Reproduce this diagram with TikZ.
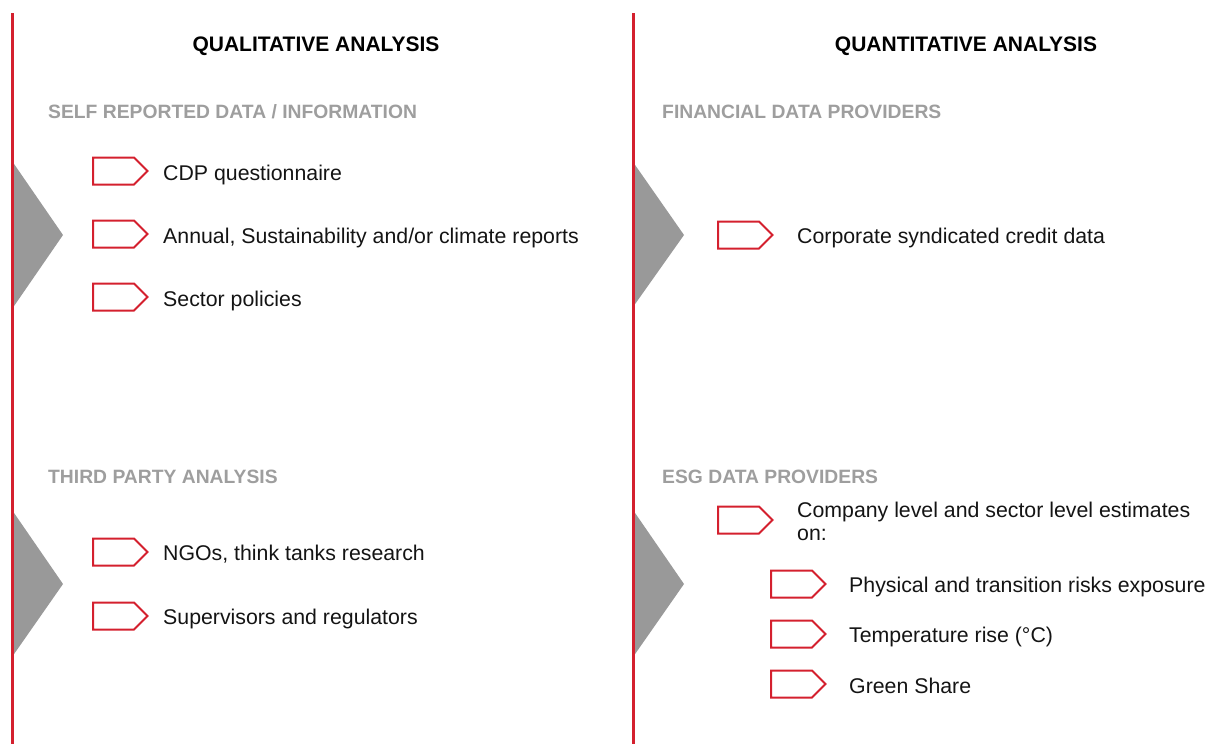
\documentclass[tikz,border=0pt]{standalone}
\usepackage{fontspec}
\setmainfont{Liberation Sans}
\definecolor{brandred}{RGB}{212,32,46}
\definecolor{markgray}{RGB}{153,153,153}
\definecolor{subgray}{RGB}{158,158,158}
\definecolor{ink}{RGB}{20,20,20}
\begin{document}
\begin{tikzpicture}[x=1pt,y=-1pt,
  heading/.style={anchor=base,inner sep=0,text=black,font=\fontsize{21}{25}\selectfont\bfseries},
  subhead/.style={anchor=base west,inner sep=0,text=subgray,font=\fontsize{19.3}{23}\selectfont\bfseries},
  item/.style={anchor=base west,inner sep=0,text=ink,font=\fontsize{21.3}{23}\selectfont},
  divider/.style={draw=brandred,line width=3pt},
  wedge/.style={fill=markgray,draw=none},
  chev/.pic={\draw[brandred,line width=2pt,line join=miter]
    (0,-13.5) -- (41,-13.5) -- (54.5,0) -- (41,13.5) -- (0,13.5) -- cycle;}
]
\useasboundingbox (0,0) rectangle (1205,744);

% grey wedges pointing into each block
\fill[wedge] (12,161) -- (63,235) -- (12,309) -- cycle;
\fill[wedge] (12,510) -- (63,584) -- (12,657) -- cycle;
\fill[wedge] (633,162) -- (684,235) -- (633,307) -- cycle;
\fill[wedge] (633,510) -- (684,584) -- (633,657) -- cycle;

% column dividers
\draw[divider] (12,13) -- (12,744);
\draw[divider] (633,13) -- (633,744);

% column titles
\node[heading] (qual) at (316,51) {QUALITATIVE ANALYSIS};
\node[heading] (quant) at (966,51) {QUANTITATIVE ANALYSIS};

% left column
\node[subhead] (self) at (48,118) {SELF REPORTED DATA / INFORMATION};
\pic at (93,171) {chev};
\node[item] (cdp) at (163,180) {CDP questionnaire};
\pic at (93,234) {chev};
\node[item] (annual) at (163,243) {Annual, Sustainability and/or climate reports};
\pic at (93,297) {chev};
\node[item] (sector) at (163,306) {Sector policies};

\node[subhead] (third) at (48,483) {THIRD PARTY ANALYSIS};
\pic at (93,552) {chev};
\node[item] (ngo) at (163,560.5) {NGOs, think tanks research};
\pic at (93,616) {chev};
\node[item] (super) at (163,624.5) {Supervisors and regulators};

% right column
\node[subhead] (fin) at (662,118) {FINANCIAL DATA PROVIDERS};
\pic at (718,235) {chev};
\node[item] (credit) at (797,243.5) {Corporate syndicated credit data};

\node[subhead] (esg) at (662,483) {ESG DATA PROVIDERS};
\pic at (718,520) {chev};
\node[item] (company) at (797,517) {Company level and sector level estimates};
\node[item] (on) at (797,540) {on:};
\pic at (771,584) {chev};
\node[item] (phys) at (849,592) {Physical and transition risks exposure};
\pic at (771,634) {chev};
\node[item] (temp) at (849,642) {Temperature rise (°C)};
\pic at (771,684) {chev};
\node[item] (green) at (849,693) {Green Share};
\end{tikzpicture}
\end{document}
